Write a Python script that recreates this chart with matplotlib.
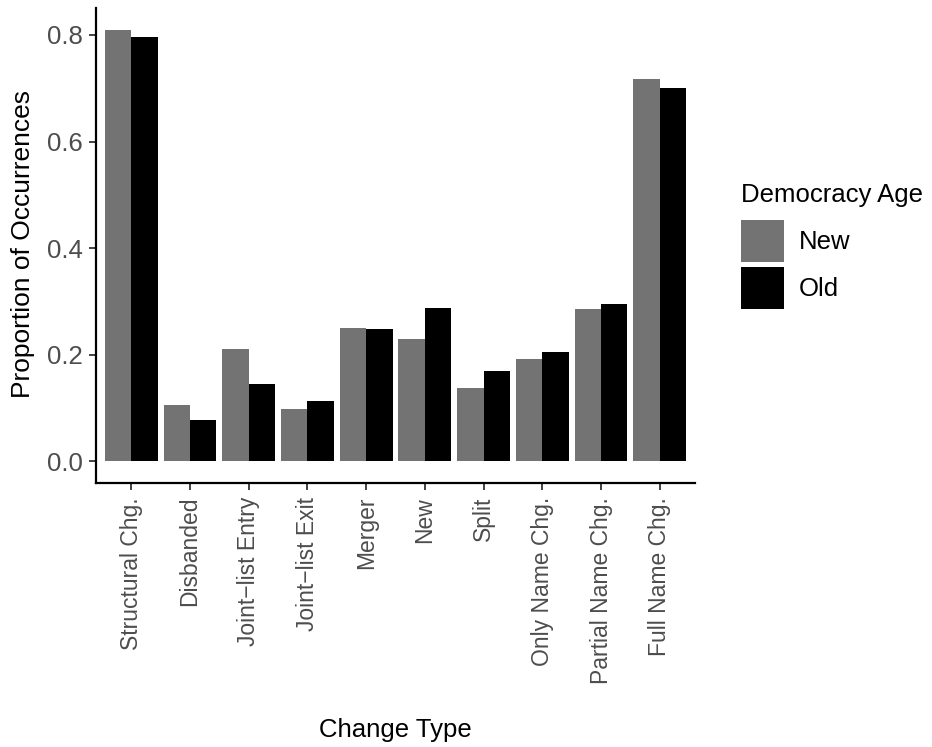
import numpy as np
import matplotlib.pyplot as plt
from matplotlib.patches import Rectangle

plt.rcParams['font.family'] = ['Liberation Sans', 'DejaVu Sans']

categories = ["Structural Chg.", "Disbanded", "Joint\u2212list Entry", "Joint\u2212list Exit",
              "Merger", "New", "Split", "Only Name Chg.", "Partial Name Chg.", "Full Name Chg."]
new_vals = [0.810, 0.105, 0.210, 0.099, 0.251, 0.230, 0.137, 0.193, 0.285, 0.718]
old_vals = [0.797, 0.077, 0.146, 0.114, 0.249, 0.287, 0.169, 0.206, 0.296, 0.701]
groups = ["New", "Old"]
colors = ["#737373", "#000000"]

W, H = 932, 747
fig = plt.figure(figsize=(W/100, H/100), dpi=100)
ax = fig.add_axes([96/W, 1 - 483/H, (695-96)/W, (483-8)/H])

x = np.arange(1, len(categories) + 1)
w = 0.45
ax.bar(x - w/2, new_vals, width=w, color=colors[0], linewidth=0)
ax.bar(x + w/2, old_vals, width=w, color=colors[1], linewidth=0)

top = max(max(new_vals), max(old_vals))
ax.set_xlim(0.4, len(categories) + 0.6)
ax.set_ylim(-0.05 * top, top * 1.05)
ax.set_yticks([0.0, 0.2, 0.4, 0.6, 0.8])
ax.set_yticklabels(["0.0", "0.2", "0.4", "0.6", "0.8"])
ax.set_xticks(x)
ax.set_xticklabels(categories, rotation=90, ha="center", va="top")

for s in ["top", "right"]:
    ax.spines[s].set_visible(False)
for s in ["left", "bottom"]:
    ax.spines[s].set_linewidth(1.6)
    ax.spines[s].set_color("black")
ax.tick_params(axis="both", length=5, width=1.3, color="#333333",
               labelcolor="#4D4D4D")
ax.tick_params(axis="x", pad=5, labelsize=16.5)
ax.tick_params(axis="y", pad=4.5, labelsize=18.5)

# axis titles
fig.text(395.5/W, 1 - 730/H, "Change Type", fontsize=18.5, ha="center", va="center")
fig.text(23/W, 1 - 244/H, "Proportion of Occurrences", fontsize=19,
         rotation=90, ha="center", va="center")

# legend
fig.text(741/W, 1 - 195/H, "Democracy Age", fontsize=18.5, va="center", ha="left")
for i, (g, c) in enumerate(zip(groups, colors)):
    y0 = 220 + i * 47
    fig.add_artist(Rectangle((741/W, 1 - (y0 + 42)/H), 43/W, 42/H,
                             transform=fig.transFigure, color=c, lw=0))
    fig.text(799/W, 1 - (y0 + 22)/H, g, fontsize=18.5, va="center", ha="left")

fig.savefig("out.png", dpi=100)
